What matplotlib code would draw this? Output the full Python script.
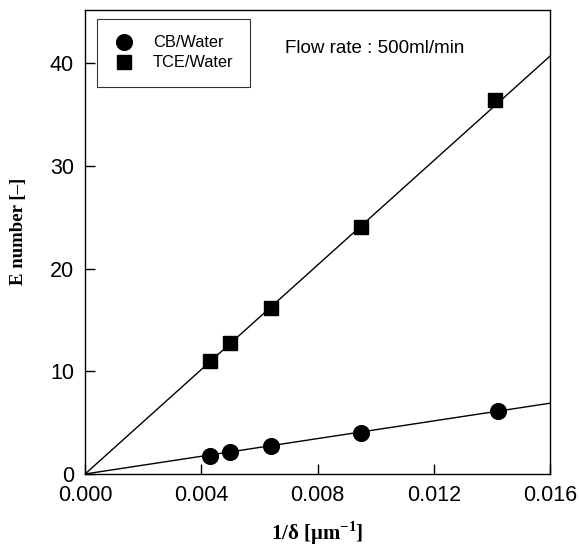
import matplotlib
matplotlib.use("Agg")
import matplotlib.pyplot as plt
import numpy as np

# Data
cb_x = [0.0043, 0.0050, 0.0064, 0.0095, 0.0142]
cb_y = [1.8, 2.1, 2.7, 4.0, 6.1]
tce_x = [0.0043, 0.0050, 0.0064, 0.0095, 0.0141]
tce_y = [11.0, 12.8, 16.2, 24.1, 36.4]
cb_slope = 431.0
tce_slope = 2545.0
x_ticks = [0.000, 0.004, 0.008, 0.012, 0.016]
y_ticks = [0, 10, 20, 30, 40]

fig = plt.figure(figsize=(5.79, 5.47), dpi=100)
ax = fig.add_axes([0.147, 0.1335, 0.803, 0.848])

xl = np.array([0.0, 0.016])
ax.plot(xl, cb_slope * xl, color="black", lw=1.0, zorder=2)
ax.plot(xl, tce_slope * xl, color="black", lw=1.0, zorder=2)
ax.plot(cb_x, cb_y, "o", color="black", ms=11.3, ls="none", label="CB/Water", zorder=3)
ax.plot(tce_x, tce_y, "s", color="black", ms=10.3, ls="none", label="TCE/Water", zorder=3)

ax.set_xlim(0, 0.016)
ax.set_ylim(0, 45.2)
ax.set_xticks(x_ticks)
ax.set_xticklabels(["%.3f" % v for v in x_ticks])
ax.set_yticks(y_ticks)
ax.tick_params(direction="in", length=7, width=1, labelsize=15.5)
ax.tick_params(axis="x", pad=8)
ax.tick_params(axis="y", pad=8)
for lab in ax.get_xticklabels() + ax.get_yticklabels():
    lab.set_fontfamily("Liberation Sans")
for s in ax.spines.values():
    s.set_linewidth(1.0)

ax.set_xlabel(r"1/$\mathregular{\delta}$ [$\mathregular{\mu}$m$^{\mathregular{-1}}$]",
              fontfamily="Liberation Serif", fontweight="bold", fontsize=15)
ax.xaxis.set_label_coords(0.5, -0.097)
ax.set_ylabel("E number [\u2013]", fontfamily="Liberation Serif", fontweight="bold",
              fontsize=13.5)
ax.yaxis.set_label_coords(-0.126, 0.524)

leg = ax.legend(loc="upper left", bbox_to_anchor=(0.026, 0.981), frameon=True, fancybox=False,
                edgecolor="black", prop={"family": "Liberation Sans", "size": 11.8},
                handletextpad=1.1, borderpad=1.0, labelspacing=0.3, handlelength=1.3,
                borderaxespad=0.0)
leg.get_frame().set_linewidth(0.8)

ax.text(0.43, 0.918, "Flow rate : 500ml/min", transform=ax.transAxes,
        fontfamily="Liberation Sans", fontsize=13.5, va="center", ha="left")

fig.savefig("out.png", dpi=100)
